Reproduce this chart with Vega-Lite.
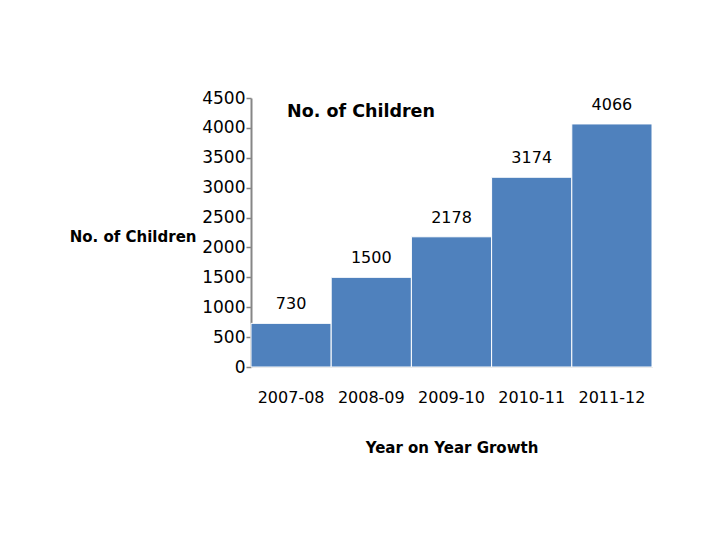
{
  "$schema": "https://vega.github.io/schema/vega-lite/v6.json",
  "autosize": {"type": "none"},
  "padding": {"left": 251, "top": 98, "right": 68, "bottom": 173},
  "width": 401,
  "height": 269,
  "background": "white",
  "title": {
    "text": "No. of Children",
    "anchor": "start",
    "frame": "group",
    "dx": 36,
    "offset": -31,
    "font": "DejaVu Sans",
    "fontSize": 17.5,
    "fontWeight": "bold",
    "color": "black"
  },
  "data": {
    "values": [
      {"year": "2007-08", "children": 730},
      {"year": "2008-09", "children": 1500},
      {"year": "2009-10", "children": 2178},
      {"year": "2010-11", "children": 3174},
      {"year": "2011-12", "children": 4066}
    ]
  },
  "config": {
    "view": {"stroke": null},
    "font": "DejaVu Sans"
  },
  "encoding": {
    "x": {
      "field": "year",
      "type": "nominal",
      "sort": null,
      "scale": {"paddingInner": 0, "paddingOuter": 0},
      "axis": {
        "title": "Year on Year Growth",
        "titleFont": "DejaVu Sans",
        "titleFontSize": 15,
        "titleFontWeight": "bold",
        "titleColor": "black",
        "titlePadding": 35,
        "labelAngle": 0,
        "labelFont": "DejaVu Sans",
        "labelFontSize": 16,
        "labelColor": "black",
        "labelPadding": 22,
        "ticks": false,
        "domainColor": "#d9d9d9",
        "domainWidth": 1,
        "grid": false
      }
    },
    "y": {
      "field": "children",
      "type": "quantitative",
      "scale": {"domain": [0, 4500], "nice": false},
      "axis": {
        "values": [0, 500, 1000, 1500, 2000, 2500, 3000, 3500, 4000, 4500],
        "format": "d",
        "title": "No. of Children",
        "titleAngle": 0,
        "titleAlign": "right",
        "titleBaseline": "middle",
        "titleX": -55,
        "titleY": 138,
        "titleFont": "DejaVu Sans",
        "titleFontSize": 15,
        "titleFontWeight": "bold",
        "titleColor": "black",
        "labelFont": "DejaVu Sans",
        "labelFontSize": 17,
        "labelColor": "black",
        "labelPadding": 1,
        "tickSize": 5,
        "tickColor": "#868686",
        "tickWidth": 1.5,
        "domainColor": "#868686",
        "domainWidth": 2,
        "grid": false
      }
    }
  },
  "layer": [
    {
      "mark": {"type": "bar", "color": "#4F81BD", "stroke": "white", "strokeWidth": 1}
    },
    {
      "mark": {"type": "text", "baseline": "bottom", "dy": -11, "font": "DejaVu Sans", "fontSize": 16, "color": "black"},
      "encoding": {"text": {"field": "children", "type": "quantitative"}}
    }
  ]
}
